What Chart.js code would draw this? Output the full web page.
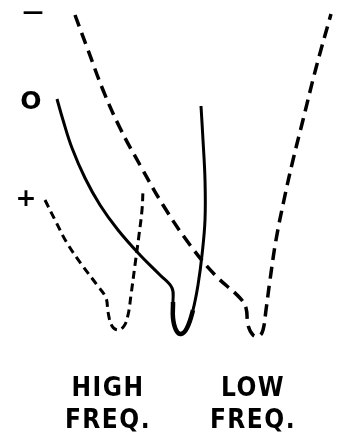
<!DOCTYPE html>
<html lang="en">
<head>
  <meta charset="UTF-8" />
  <title>High / Low frequency curves</title>
  <style>
    body {
      margin: 0;
      background: #fff;
    }
    .wrap {
      width: 339px;
      height: 436px;
      position: relative;
    }
  </style>
</head>
<body>
  <div class="wrap"><canvas id="chart"></canvas></div>

  <script src="https://cdn.jsdelivr.net/npm/chart.js"></script>
  <script>
    // curve points (x, y in picture units, y grows downward)
    const curveMinus = [
      [75, 15], [88, 50], [103, 90], [120, 128], [140, 165], [163, 205],
      [190, 245], [215, 275], [240, 298], [246, 308], [248, 325], [253, 335],
      [259, 336], [263, 330], [266, 310], [270, 280], [276, 240], [284, 200],
      [293, 160], [303, 120], [316, 68], [331, 14]
    ];
    const curveZero = [
      [57, 99], [63, 120], [72, 148], [85, 178], [100, 205], [118, 230],
      [140, 255], [160, 275], [172, 288], [173, 302], [173, 318], [176, 330],
      [181, 334], [187, 328], [193, 310], [198, 285], [202, 255], [205, 220],
      [205, 180], [203, 140], [201, 106]
    ];
    const curvePlus = [
      [45, 200], [55, 220], [67, 243], [82, 265], [97, 285], [106, 298],
      [108, 312], [112, 326], [118, 330], [124, 326], [128, 315], [131, 295],
      [135, 265], [139, 235], [142, 210], [143, 190]
    ];

    const sideLabels = ['\u2014', 'O', '+'];
    const sideLabelPos = [[33, 14], [31, 102], [26, 199]];
    const bottomLabels = [['HIGH', 'FREQ.'], ['LOW', 'FREQ.']];
    const bottomLabelPos = [[108, 389], [253, 389]];

    const toXY = arr => arr.map(p => ({ x: p[0], y: p[1] }));

    const textPlugin = {
      id: 'drawnText',
      afterDraw(chart) {
        const { ctx, scales } = chart;
        ctx.save();
        ctx.fillStyle = '#000';
        ctx.textAlign = 'center';
        ctx.textBaseline = 'middle';
        sideLabels.forEach((t, i) => {
          ctx.font = i === 0 ? 'bold 21px "DejaVu Sans"' : 'bold 25px "DejaVu Sans"';
          const x = scales.x.getPixelForValue(sideLabelPos[i][0]);
          const y = scales.y.getPixelForValue(sideLabelPos[i][1]);
          ctx.fillText(t, x, y);
        });
        ctx.font = 'bold 26px "DejaVu Sans Condensed"';
        ctx.letterSpacing = '1.5px';
        bottomLabels.forEach((lines, i) => {
          const x = scales.x.getPixelForValue(bottomLabelPos[i][0]);
          lines.forEach((t, j) => {
            const y = scales.y.getPixelForValue(bottomLabelPos[i][1] + j * 32);
            ctx.fillText(t, x, y);
          });
        });
        ctx.restore();
      }
    };

    new Chart(document.getElementById('chart'), {
      type: 'line',
      data: {
        datasets: [
          {
            label: '-',
            data: toXY(curveMinus),
            borderColor: '#000',
            borderWidth: 3.5,
            borderDash: [12, 7],
            tension: 0.4
          },
          {
            label: '0',
            data: toXY(curveZero),
            borderColor: '#000',
            borderWidth: 3,
            tension: 0.4,
            segment: {
              borderWidth: c => (c.p0.parsed.y > 295 && c.p1.parsed.y > 295 ? 4.5 : 3)
            }
          },
          {
            label: '+',
            data: toXY(curvePlus),
            borderColor: '#000',
            borderWidth: 3,
            borderDash: [8, 5],
            tension: 0.4
          }
        ]
      },
      options: {
        responsive: true,
        maintainAspectRatio: false,
        animation: false,
        layout: { padding: 0 },
        elements: { point: { radius: 0 } },
        plugins: {
          legend: { display: false },
          tooltip: { enabled: false }
        },
        scales: {
          x: { type: 'linear', min: 0, max: 339, display: false },
          y: { type: 'linear', min: 0, max: 436, reverse: true, display: false }
        }
      },
      plugins: [textPlugin]
    });
  </script>
</body>
</html>
